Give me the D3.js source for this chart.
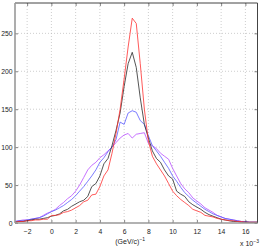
<!DOCTYPE html>
<html>
<head>
<meta charset="utf-8">
<script src="https://cdn.jsdelivr.net/npm/d3@7"></script>
<style>
  body { margin: 0; background: #fff; }
  text { font-family: "Liberation Sans", Arial, sans-serif; font-size: 7px; fill: #222; }
</style>
</head>
<body>
<svg id="chart"></svg>
<script>
// x in units of 10^-3 (GeV/c)^-1
const xs = [-3, -2.67, -2.33, -2, -1.67, -1.33, -1, -0.67, -0.33, 0, 0.33, 0.67, 1, 1.33, 1.67, 2, 2.33, 2.67, 3, 3.33, 3.67,
  4, 4.33, 4.67, 5, 5.33, 5.67, 6, 6.33, 6.67, 7, 7.33, 7.67, 8, 8.33, 8.67, 9, 9.33, 9.67, 10, 10.33, 10.67, 11, 11.33, 11.67,
  12, 12.33, 12.67, 13, 13.33, 13.67, 14, 14.33, 14.67, 15, 15.33, 15.67, 16, 16.33, 16.67, 17];

const redVals = [1, 2, 2, 3, 3, 4, 4, 5, 5, 10, 10, 11, 14, 15, 17, 20, 23, 28, 30, 37, 38,
  48, 62, 70, 92, 118, 150, 190, 232, 270, 263, 210, 150, 108, 88, 78, 70, 62, 52, 42, 36, 31, 27, 23, 18,
  16, 14, 10, 9, 8, 6, 5, 4, 3, 3, 2, 2, 1, 1, 1, 1];

const blackVals = [1, 2, 2, 3, 4, 5, 5, 6, 7, 9, 10, 12, 16, 18, 22, 25, 28, 30, 35, 48, 52,
  62, 78, 85, 102, 122, 145, 180, 210, 225, 205, 165, 130, 112, 95, 85, 80, 70, 62, 58, 42, 38, 35, 28, 24,
  21, 18, 14, 11, 9, 7, 5, 4, 3, 2, 2, 1, 1, 1, 1, 1];

const blueVals = [2, 3, 3, 4, 5, 6, 7, 9, 12, 15, 17, 20, 23, 27, 31, 36, 42, 48, 55, 62, 70,
  80, 86, 94, 100, 110, 133, 130, 145, 148, 146, 135, 130, 115, 102, 95, 88, 80, 72, 62, 55, 47, 40, 35, 30,
  26, 22, 18, 15, 12, 10, 8, 6, 5, 4, 3, 2, 2, 1, 1, 1];

const purpleVals = [2, 3, 4, 4, 5, 6, 7, 10, 13, 15, 18, 23, 27, 32, 36, 42, 50, 60, 70, 76, 80,
  86, 90, 95, 100, 106, 112, 116, 118, 112, 117, 118, 119, 105, 102, 98, 92, 88, 84, 72, 62, 52, 45, 40, 33,
  29, 25, 20, 17, 14, 10, 8, 6, 5, 4, 3, 2, 2, 1, 1, 1];

const xTicks = [-2, 0, 2, 4, 6, 8, 10, 12, 14, 16];
const yTicks = [0, 50, 100, 150, 200, 250];

const series = [
  { name: "purple", values: purpleVals, color: "#b84dff" },
  { name: "blue", values: blueVals, color: "#5a5aff" },
  { name: "black", values: blackVals, color: "#2a2a2a" },
  { name: "red", values: redVals, color: "#ff3030" }
];

const W = 261, H = 248;
const margin = { top: 3, right: 3.5, bottom: 25, left: 15 };
const width = W - margin.left - margin.right;
const height = H - margin.top - margin.bottom;

const svg = d3.select("#chart").attr("width", W).attr("height", H);
const g = svg.append("g").attr("transform", `translate(${margin.left},${margin.top})`);

const x = d3.scaleLinear().domain([-3, 17]).range([0, width]);
const y = d3.scaleLinear().domain([0, 290]).range([height, 0]);

// grid
g.append("g").selectAll("line").data(xTicks).enter().append("line")
  .attr("x1", (d) => x(d)).attr("x2", (d) => x(d))
  .attr("y1", 0).attr("y2", height)
  .attr("stroke", "#b8b8b8").attr("stroke-width", 0.7).attr("stroke-dasharray", "1,2");
g.append("g").selectAll("line").data(yTicks.filter((d) => d > 0)).enter().append("line")
  .attr("x1", 0).attr("x2", width)
  .attr("y1", (d) => y(d)).attr("y2", (d) => y(d))
  .attr("stroke", "#b8b8b8").attr("stroke-width", 0.7).attr("stroke-dasharray", "1,2");

// curves
const line = d3.line().x((d, i) => x(xs[i])).y((d) => y(d));
g.selectAll(".curve").data(series).enter().append("path")
  .attr("class", "curve")
  .attr("d", (s) => line(s.values))
  .attr("fill", "none")
  .attr("stroke", (s) => s.color)
  .attr("stroke-width", 0.8);

// axes (MATLAB style, ticks inward)
const xAxis = d3.axisBottom(x).tickValues(xTicks).tickSizeInner(-3).tickSizeOuter(0)
  .tickPadding(6).tickFormat((d) => (d < 0 ? "\u2212" + Math.abs(d) : d));
const yAxis = d3.axisLeft(y).tickValues(yTicks).tickSizeInner(-3).tickSizeOuter(0).tickPadding(2.5);

const gx = g.append("g").attr("transform", `translate(0,${height})`).call(xAxis);
const gy = g.append("g").call(yAxis);
[gx, gy].forEach((a) => {
  a.select(".domain").remove();
  a.selectAll(".tick line").attr("stroke", "#333").attr("stroke-width", 0.6);
  a.selectAll("text").style("font-size", "6.8px").attr("fill", "#222");
});

// top/right ticks
g.append("g").call(d3.axisTop(x).tickValues(xTicks).tickSizeInner(-3).tickSizeOuter(0).tickFormat(""))
  .call((a) => { a.select(".domain").remove(); a.selectAll(".tick line").attr("stroke", "#333").attr("stroke-width", 0.6); });
g.append("g").attr("transform", `translate(${width},0)`)
  .call(d3.axisRight(y).tickValues(yTicks).tickSizeInner(-3).tickSizeOuter(0).tickFormat(""))
  .call((a) => { a.select(".domain").remove(); a.selectAll(".tick line").attr("stroke", "#333").attr("stroke-width", 0.6); });

// box
g.append("line").attr("x1", 0).attr("x2", width).attr("y1", 0).attr("y2", 0).attr("stroke", "#444").attr("stroke-width", 1);
g.append("line").attr("x1", width).attr("x2", width).attr("y1", 0).attr("y2", height).attr("stroke", "#444").attr("stroke-width", 1);
g.append("line").attr("x1", 0).attr("x2", 0).attr("y1", 0).attr("y2", height).attr("stroke", "#999").attr("stroke-width", 1.6);
g.append("line").attr("x1", 0).attr("x2", width).attr("y1", height).attr("y2", height).attr("stroke", "#999").attr("stroke-width", 1.6);

// x label
const xl = svg.append("text").attr("x", margin.left + x(6.5)).attr("y", 244).attr("text-anchor", "middle");
xl.append("tspan").text("(GeV/c)");
xl.append("tspan").attr("dy", -3).style("font-size", "5px").text("\u22121");

// exponent
const ex = svg.append("text").attr("x", 240).attr("y", 246);
ex.append("tspan").text("x 10");
ex.append("tspan").attr("dy", -3).style("font-size", "5px").text("\u22123");
</script>
</body>
</html>
